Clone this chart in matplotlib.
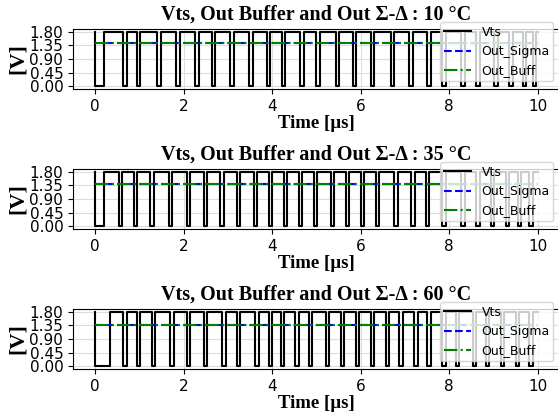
import matplotlib
matplotlib.use("Agg")
import matplotlib.pyplot as plt
import numpy as np

temps = ["10", "35", "60"]
# Low-pulse intervals of Vts (µs): start (falling edge) and end (rising edge)
low_start_10 = [0.0, 0.63, 0.94, 1.40, 1.83, 2.26, 2.64, 3.05, 3.48, 3.88, 4.22, 4.64,
                5.00, 5.44, 5.82, 6.23, 6.68, 7.10, 7.51, 7.85, 8.27, 8.61, 9.02, 9.36, 9.66, 9.89]
low_end_10 = [0.20, 0.71, 1.02, 1.48, 1.91, 2.34, 2.72, 3.13, 3.56, 3.96, 4.30, 4.72,
              5.08, 5.52, 5.90, 6.31, 6.76, 7.18, 7.59, 7.93, 8.35, 8.69, 9.10, 9.44, 9.74, 9.97]
low_start_35 = [0.0, 0.53, 0.87, 1.24, 1.66, 2.07, 2.45, 2.83, 3.20, 3.58, 3.92, 4.26, 4.60,
                4.94, 5.33, 5.66, 6.00, 6.34, 6.76, 7.14, 7.47, 7.85, 8.27, 8.61, 8.94, 9.28, 9.55, 9.81]
low_end_35 = [0.20, 0.61, 0.95, 1.32, 1.74, 2.15, 2.53, 2.91, 3.28, 3.66, 4.00, 4.34, 4.68,
              5.02, 5.41, 5.74, 6.08, 6.42, 6.84, 7.22, 7.55, 7.93, 8.35, 8.69, 9.02, 9.36, 9.63, 9.89]
low_start_60 = [0.0, 0.64, 0.94, 1.28, 1.70, 2.07, 2.45, 2.87, 3.20, 3.62, 3.92, 4.19, 4.52, 4.83,
                5.21, 5.55, 5.89, 6.23, 6.57, 6.87, 7.21, 7.51, 7.85, 8.15, 8.53, 8.83, 9.17, 9.51, 9.81]
low_end_60 = [0.34, 0.72, 1.02, 1.36, 1.78, 2.15, 2.53, 2.95, 3.28, 3.70, 4.00, 4.27, 4.60, 4.91,
              5.29, 5.63, 5.97, 6.31, 6.65, 6.95, 7.29, 7.59, 7.93, 8.23, 8.61, 8.91, 9.25, 9.59, 9.89]
v_high = 1.8
v_low = 0.0
t_end = 10.0
out_sigma = [1.42, 1.39, 1.36]
out_buff = [1.42, 1.39, 1.36]
yticks = [0.00, 0.45, 0.90, 1.35, 1.80]
xticks = [0, 2, 4, 6, 8, 10]

starts = [low_start_10, low_start_35, low_start_60]
ends = [low_end_10, low_end_35, low_end_60]

fig = plt.figure(figsize=(5.58, 4.18), dpi=100)
bottoms = [1 - 89 / 418, 1 - 229 / 418, 1 - 369 / 418]
left = 73 / 558
width = 1.003 - left
height = 60 / 418

serif = "Liberation Serif"
for i in range(3):
    ax = fig.add_axes([left, bottoms[i], width, height])
    t = []
    v = []
    for s, e in zip(starts[i], ends[i]):
        t += [s, s, e, e]
        v += [v_high, v_low, v_low, v_high]
    t.append(t_end)
    v.append(v_high)
    ax.plot(t, v, color="black", lw=1.5, label="Vts")
    ax.plot([0, t_end], [out_sigma[i]] * 2, color="blue", ls="--", lw=1.5, label="Out_Sigma")
    ax.plot([0, t_end], [out_buff[i]] * 2, color="green", ls="-.", lw=1.5, label="Out_Buff")
    ax.set_xlim(-0.5, 10.5)
    ax.set_yticks(yticks)
    ax.set_yticklabels([f"{y:.2f}" for y in yticks])
    ax.set_xticks(xticks)
    ax.tick_params(labelsize=11)
    ax.grid(True, color="#dddddd", lw=0.8)
    ax.set_title(f"Vts, Out Buffer and Out Σ-Δ : {temps[i]} °C",
                 fontfamily=serif, fontweight="bold", fontsize=14.5, pad=6.5)
    ax.set_xlabel("Time [µs]", fontfamily=serif, fontweight="bold", fontsize=13.5, labelpad=1)
    ax.set_ylabel("[V]", fontfamily=serif, fontweight="bold", fontsize=16, labelpad=1)
    ax.legend(loc="upper right", bbox_to_anchor=(1.0, 1.22), fontsize=9,
              handlelength=2.2, borderpad=0.3, labelspacing=0.5)

fig.savefig("out.png", dpi=100)
